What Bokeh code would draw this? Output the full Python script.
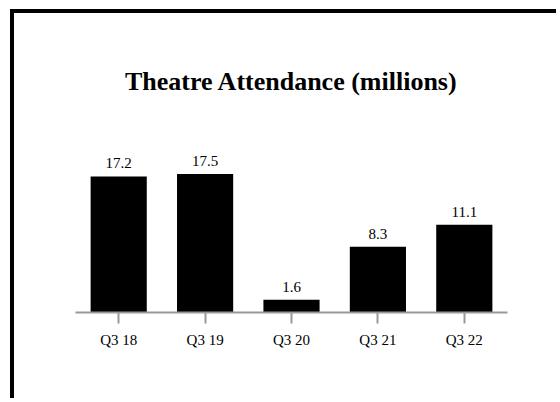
from bokeh.plotting import figure
from bokeh.models import ColumnDataSource, Range1d, FactorRange
from bokeh.core.properties import value
from bokeh.embed import file_html
from bokeh.resources import INLINE

quarters = ["Q3 18", "Q3 19", "Q3 20", "Q3 21", "Q3 22"]
attendance = [17.2, 17.5, 1.6, 8.3, 11.1]
labels = ["17.2", "17.5", "1.6", "8.3", "11.1"]

source = ColumnDataSource(data=dict(q=quarters, v=attendance, lab=labels))

p = figure(width=546, height=389, output_backend="svg", toolbar_location=None,
           x_range=FactorRange(*quarters, range_padding=0),
           y_range=Range1d(0, 26.8),
           min_border_left=61, min_border_right=53, min_border_top=87, min_border_bottom=90,
           title="Theatre Attendance (millions)")
p.margin = (9, 0, 0, 10)
p.styles = {"border-left": "4px solid black", "border-top": "4px solid black"}

p.vbar(x="q", top="v", width=0.65, source=source, fill_color="black", line_color=None)
p.text(x="q", y="v", text="lab", source=source, text_align="center", text_baseline="alphabetic",
       y_offset=-13, text_font=value("Liberation Serif"), text_font_size="15px", text_color="black")

p.title.align = "center"
p.title.text_font = "Liberation Serif"
p.title.text_font_size = "26px"
p.title.text_font_style = "bold"
p.title.text_color = "black"

p.yaxis.visible = False
p.xgrid.grid_line_color = None
p.ygrid.grid_line_color = None
p.outline_line_color = None

ax = p.xaxis[0]
ax.axis_line_color = "#999999"
ax.axis_line_width = 2
ax.major_tick_line_color = "#999999"
ax.major_tick_line_width = 2
ax.major_tick_out = 11
ax.major_tick_in = 0
ax.minor_tick_line_color = None
ax.major_label_text_font = "Liberation Serif"
ax.major_label_text_font_size = "15px"
ax.major_label_text_color = "black"
ax.major_label_standoff = 8

open("out.html", "w").write(file_html(p, INLINE))
